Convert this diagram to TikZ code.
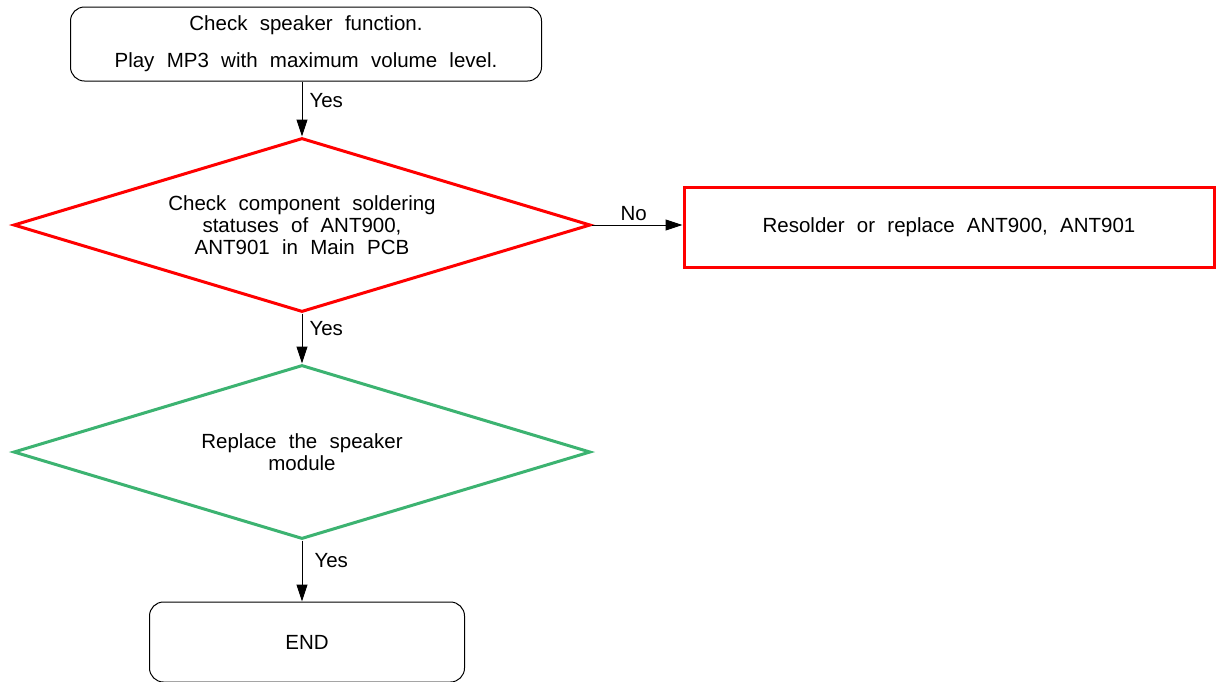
\documentclass[tikz,border=0pt]{standalone}
\usepackage{fontspec}
\setmainfont{Liberation Sans}
\usepackage{xcolor}
\usetikzlibrary{shapes,arrows.meta,positioning,calc}

\definecolor{okgreen}{RGB}{60,179,113}

\tikzset{
    txt/.style={font={\fontsize{20.5}{22}\selectfont\spaceskip=0.6em\relax}},
    startbox/.style={draw, rounded corners=14pt, line width=1pt, align=center,
        font={\fontsize{20.5}{37}\selectfont\spaceskip=0.6em\relax}},
    decision/.style={diamond, shape aspect=3.3, minimum width=577pt, minimum height=174pt,
        inner sep=0pt, line width=3pt, align=center, txt},
    actbox/.style={draw=red, line width=3pt, minimum width=530pt, minimum height=80pt, txt},
    arr/.style={line width=1pt, -{Triangle[length=17pt,width=11pt]}},
    lbl/.style={inner sep=2pt, txt}
}

\begin{document}
\begin{tikzpicture}[x=1pt,y=-1pt]
    \useasboundingbox (0,0) rectangle (1216,681);

    % Start
    \node[startbox, minimum width=471pt, minimum height=74pt] (check) at (306,44)
        {Check speaker function.\\Play MP3 with maximum volume level.};

    % Soldering check
    \node[decision, draw=red] (solder) at (302,225)
        {Check component soldering\\statuses of ANT900,\\ANT901 in Main PCB};
    \node[actbox] (resolder) at (949,227) {Resolder or replace ANT900, ANT901};

    % Speaker
    \node[decision, draw=okgreen] (speaker) at (302,452) {Replace the speaker\\module};

    % End
    \node[startbox, minimum width=315pt, minimum height=80pt] (finish) at (307,642) {END};

    % Connectors
    \draw[arr] (check.south -| solder.north) -- node[lbl, pos=0.34, anchor=west, xshift=5pt] {Yes} (solder.north);
    \draw[arr] (solder.east) -- node[lbl, pos=0.46, above, yshift=2pt] {No} (resolder.west |- solder.east);
    \draw[arr] (solder.south) -- node[lbl, pos=0.3, anchor=west, xshift=5pt] {Yes} (speaker.north);
    \draw[arr] (speaker.south) -- node[lbl, pos=0.33, anchor=west, xshift=10pt] {Yes} (speaker.south |- finish.north);
\end{tikzpicture}
\end{document}
